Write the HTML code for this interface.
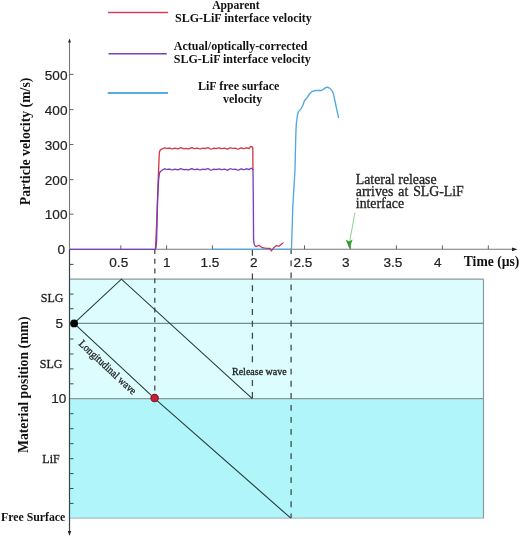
<!DOCTYPE html>
<html><head><meta charset="utf-8">
<style>
html,body{margin:0;padding:0;background:#fff;}
body{width:520px;height:537px;overflow:hidden;}
svg{display:block;will-change:transform;}
.sb{font-family:"Liberation Serif",serif;font-weight:bold;fill:#111;}
.s{font-family:"Liberation Serif",serif;fill:#222;stroke:#222;stroke-width:0.3px;}
.a{font-family:"Liberation Sans",sans-serif;fill:#222;stroke:#222;stroke-width:0.2px;}
</style></head><body>
<svg width="520" height="537" viewBox="0 0 520 537">
<!-- lower diagram box -->
<rect x="69.5" y="279.2" width="414" height="119.5" fill="#dcfcfe"/>
<rect x="69.5" y="398.7" width="414" height="119.5" fill="#b0f5fa"/>
<g stroke="#8a9a9c" stroke-width="1.2" fill="none">
<line x1="69.5" y1="279.2" x2="483.5" y2="279.2"/>
<line x1="483.5" y1="279.2" x2="483.5" y2="518.2"/>
<line x1="69.5" y1="323.4" x2="483.5" y2="323.4" stroke="#6f9090"/>
<line x1="69.5" y1="398.7" x2="483.5" y2="398.7"/>
<line x1="69.5" y1="518.2" x2="483.5" y2="518.2" stroke="#a8c0c2"/>
</g>
<!-- dashed lines -->
<g stroke="#3f4c4c" stroke-width="1.3" fill="none">
<line x1="154.8" y1="249.1" x2="154.8" y2="398" stroke-dasharray="4.8 4.95"/>
<line x1="252.4" y1="249.7" x2="252.4" y2="398.7" stroke-dasharray="6 5.85"/>
<line x1="291.1" y1="248.3" x2="291.1" y2="518" stroke-dasharray="5.8 6.25"/>
</g>
<!-- wave lines -->
<g stroke="#2a3a3a" stroke-width="1.1" fill="none">
<polyline points="74,323.3 121.4,279.2 252.3,398.7"/>
<polyline points="74,323.3 154.5,398.3 290.8,518.2"/>
</g>
<circle cx="74.1" cy="323.4" r="3.9" fill="#050505"/>
<circle cx="154.6" cy="398.1" r="3.7" fill="#c81f36" stroke="#8a1428" stroke-width="1.1"/>
<!-- axes -->
<g stroke="#777" stroke-width="1.1" fill="none">
<line x1="69.5" y1="42" x2="69.5" y2="249.3"/>
<line x1="69.5" y1="249.3" x2="513" y2="249.3"/>
</g>
<line x1="69.5" y1="249.3" x2="69.5" y2="532" stroke="#3a4646" stroke-width="1.2"/>
<polygon points="69.5,38.6 68,42.6 71,42.6" fill="#222"/>
<polygon points="69.5,536 67.8,531 71.2,531" fill="#222"/>
<polygon points="517.5,249.3 512,247.4 512,251.2" fill="#222"/>
<!-- y ticks top -->
<g stroke="#666" stroke-width="1" fill="none">
<path d="M69.5 74.4h4M69.5 109.6h4M69.5 144.5h4M69.5 179.6h4M69.5 214.2h4"/>
<path d="M120.8 249.3v-4M166.6 249.3v-4M212.4 249.3v-4M304.5 249.3v-4M350.3 249.3v-4M396.4 249.3v-4M442.4 249.3v-4M488.3 249.3v-4"/>
<path stroke="#3a5050" d="M69.5 264.4h4M69.5 294.1h4M69.5 308.7h4M69.5 339h4M69.5 354h4M69.5 368.9h4M69.5 383.8h4M69.5 413.7h4M69.5 428.7h4M69.5 443.7h4M69.5 458.7h4M69.5 473.6h4M69.5 488.5h4M69.5 503.4h4"/>
</g>
<!-- curves -->
<g fill="none" stroke-width="1.35" stroke-linejoin="round">
<polyline stroke="#52a8e2" points="212.5,249.3 291.5,249.3 292.8,206.6 295,170 295.8,135 296.3,124 296.9,119 297.6,114.5 298.5,111.6 301,108.9 302.9,105.2 304.3,101 306.6,98.2 308.5,95.5 310.4,93 312,91.6 315.4,90.5 321.2,90.5 322.9,89.6 325,88 327.5,87.1 330,88.4 332.1,90.9 333.4,93.8 334.2,97.6 335.5,103.5 336.7,109.3 338,115.2 338.7,118.1"/>
<path stroke="#d23a48" d="M155.5 249.3 L156.6 225 L158 185 L158.9 162 L159.3 153 Q159.7 149.6 161.8 149.2 L163 148.51 L164 147.97 L165 147.87 L166 148.13 L167 148.34 L168 148.26 L169 148.12 L170 148.24 L171 148.63 L172 148.93 L173 148.81 L174 148.39 L175 148.14 L176 148.31 L177 148.69 L178 148.78 L179 148.40 L180 147.87 L181 147.70 L182 148.03 L183 148.50 L184 148.71 L185 148.61 L186 148.53 L187 148.69 L188 148.90 L189 148.79 L190 148.29 L191 147.78 L192 147.72 L193 148.15 L194 148.62 L195 148.68 L196 148.37 L197 148.12 L198 148.27 L199 148.68 L200 148.91 L201 148.73 L202 148.39 L203 148.25 L204 148.39 L205 148.48 L206 148.24 L207 147.83 L208 147.71 L209 148.13 L210 148.79 L211 149.16 L212 148.96 L213 148.49 L214 148.23 L215 148.33 L216 148.51 L217 148.42 L218 148.10 L219 147.93 L220 148.13 L221 148.52 L222 148.66 L223 148.43 L224 148.16 L225 148.25 L226 148.71 L227 149.10 L228 148.98 L229 148.41 L230 147.89 L231 147.81 L232 148.09 L233 148.32 L234 148.30 L235 148.21 L236 148.38 L237 148.79 L238 149.06 L239 148.86 L240 148.34 L241 147.99 L242 148.11 L243 148.50 L244 148.67 L245 148.39 L246 147.96 L247 147.85 L248 148.18 L249 148.62 L250.5 146.6 Q252.3 146.2 252.8 148 L253 170"/>
<path stroke="#7840b8" d="M70 249.3 L155.3 249.3 C156 249 156.4 246 156.6 240 L157.6 200 L158.6 180 L159.4 173.5 Q159.9 171 161.8 170.6 L163 169.51 L164 168.97 L165 168.87 L166 169.13 L167 169.34 L168 169.26 L169 169.12 L170 169.24 L171 169.63 L172 169.93 L173 169.81 L174 169.39 L175 169.14 L176 169.31 L177 169.69 L178 169.78 L179 169.40 L180 168.87 L181 168.70 L182 169.03 L183 169.50 L184 169.71 L185 169.61 L186 169.53 L187 169.69 L188 169.90 L189 169.79 L190 169.29 L191 168.78 L192 168.72 L193 169.15 L194 169.62 L195 169.68 L196 169.37 L197 169.12 L198 169.27 L199 169.68 L200 169.91 L201 169.73 L202 169.39 L203 169.25 L204 169.39 L205 169.48 L206 169.24 L207 168.83 L208 168.71 L209 169.13 L210 169.79 L211 170.16 L212 169.96 L213 169.49 L214 169.23 L215 169.33 L216 169.51 L217 169.42 L218 169.10 L219 168.93 L220 169.13 L221 169.52 L222 169.66 L223 169.43 L224 169.16 L225 169.25 L226 169.71 L227 170.10 L228 169.98 L229 169.41 L230 168.89 L231 168.81 L232 169.09 L233 169.32 L234 169.30 L235 169.21 L236 169.38 L237 169.79 L238 170.06 L239 169.86 L240 169.34 L241 168.99 L242 169.11 L243 169.50 L244 169.67 L245 169.39 L246 168.96 L247 168.85 L248 169.18 L249 169.62 L251 168.3 Q252.6 168.2 253 170 L253.3 200 L253.6 240 C254 245 254.6 246.2 256 246.6"/>
<path stroke="#c42a4a" stroke-width="1.15" d="M256 246.6 L259 245.3 L262 247.6 L266 248.2 L270 248.4 L271.4 251 L273.5 248 L276 245.6 L279 246.2 L281 244.5 L283.5 242.6"/>
</g>
<!-- green arrow -->
<line x1="355" y1="212.4" x2="349.4" y2="243" stroke="#8fd08f" stroke-width="1"/>
<polygon points="345.8,239.6 349.2,241.4 352.6,239.6 349.4,249" fill="#2f9e35"/>
<!-- legend -->
<line x1="108" y1="12.4" x2="168" y2="12.4" stroke="#d8405a" stroke-width="1.5"/>
<line x1="108.5" y1="53.8" x2="166.8" y2="53.8" stroke="#7444a8" stroke-width="1.6"/>
<line x1="107.7" y1="93" x2="168" y2="93" stroke="#58ace6" stroke-width="1.8"/>
<g class="sb" font-size="12">
<text x="212.2" y="8.8" font-size="11.6">Apparent</text>
<text x="175" y="21.6">SLG-LiF interface velocity</text>
<text x="173.8" y="50.4">Actual/optically-corrected</text>
<text x="173.8" y="63.3">SLG-LiF interface velocity</text>
<text x="198" y="89.5">LiF free surface</text>
<text x="223" y="103">velocity</text>
</g>
<!-- annotation -->
<g class="s" font-size="13.8" fill="#333">
<text x="355.8" y="183.7">Lateral release</text>
<text x="355.8" y="196" word-spacing="1.5">arrives at SLG-LiF</text>
<text x="355.8" y="207.6">interface</text>
</g>
<!-- y labels top -->
<g class="a" font-size="13.6" text-anchor="end">
<text x="67.5" y="79.6">500</text>
<text x="67.5" y="114.8">400</text>
<text x="67.5" y="149.7">300</text>
<text x="67.5" y="184.8">200</text>
<text x="67.5" y="219.4">100</text>
<text x="65.1" y="254.3">0</text>
</g>
<!-- x labels -->
<rect x="249.8" y="257" width="9" height="10.5" fill="#fff"/>
<g class="a" font-size="13.6">
<text x="109.3" y="267">0.5</text>
<text x="163" y="267">1</text>
<text x="200.5" y="267">1.5</text>
<text x="250" y="267">2</text>
<text x="293.4" y="267">2.5</text>
<text x="342" y="267">3</text>
<text x="383.5" y="267">3.5</text>
<text x="434" y="267">4</text>
</g>
<text class="sb" font-size="13.6" x="463.8" y="265.7">Time (µs)</text>
<!-- lower labels -->
<g class="s" font-size="12" text-anchor="end">
<text x="63.4" y="302">SLG</text>
<text x="62.4" y="368.1">SLG</text>
<text x="59.7" y="462.6">LiF</text>
</g>
<g class="a" font-size="13.6" text-anchor="end">
<text x="63" y="327.8">5</text>
<text x="66.3" y="403">10</text>
</g>
<text class="sb" font-size="11.8" x="1" y="521">Free Surface</text>
<rect x="231.5" y="366" width="56" height="11" fill="#dcfcfe"/>
<text class="s" font-size="10" x="232" y="374.6">Release wave</text>
<text class="s" font-size="10.8" textLength="74" lengthAdjust="spacingAndGlyphs" transform="translate(78.3,344.6) rotate(43)">Longitudinal wave</text>
<!-- axis titles -->
<text class="sb" font-size="13.75" transform="translate(29.8,141.4) rotate(-90)" text-anchor="middle">Particle velocity (m/s)</text>
<text class="sb" font-size="13.75" transform="translate(27.9,384.7) rotate(-90)" text-anchor="middle">Material position (mm)</text>
</svg>
</body></html>
